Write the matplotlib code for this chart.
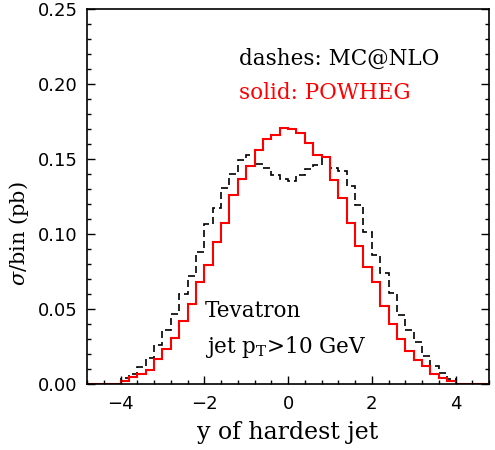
import numpy as np
import matplotlib
matplotlib.use("Agg")
import matplotlib.pyplot as plt
from matplotlib.ticker import MultipleLocator

# Bin edges: 40 bins of width 0.2 from -4 to 4
bin_lo = -4.0
bin_hi = 4.0
bin_w = 0.2

# POWHEG (solid red), sigma/bin in pb
powheg = [0.0018, 0.0044, 0.0067, 0.0095, 0.0168, 0.0234, 0.0307, 0.0422, 0.0535, 0.0682,
          0.0791, 0.0946, 0.1072, 0.1257, 0.1368, 0.1451, 0.1560, 0.1634, 0.1660, 0.1707,
          0.1697, 0.1670, 0.1604, 0.1525, 0.1513, 0.1360, 0.1242, 0.1075, 0.0919, 0.0782,
          0.0680, 0.0517, 0.0398, 0.0301, 0.0220, 0.0160, 0.0117, 0.0068, 0.0037, 0.0018]

# MC@NLO (dashed black)
mcnlo = [0.0037, 0.0069, 0.0112, 0.0173, 0.0262, 0.0360, 0.0467, 0.0600, 0.0717, 0.0881,
         0.1067, 0.1173, 0.1309, 0.1401, 0.1490, 0.1523, 0.1464, 0.1440, 0.1390, 0.1367,
         0.1351, 0.1393, 0.1435, 0.1462, 0.1513, 0.1440, 0.1417, 0.1317, 0.1195, 0.1015,
         0.0859, 0.0740, 0.0606, 0.0456, 0.0362, 0.0278, 0.0189, 0.0120, 0.0071, 0.0035]

xmin, xmax = -4.8, 4.8
ymin, ymax = 0.0, 0.25

edges = np.round(np.arange(bin_lo, bin_hi + bin_w / 2, bin_w), 6)
full_edges = np.concatenate([[xmin], edges, [xmax]])

def padded(v):
    return np.concatenate([[0.0], np.asarray(v), [0.0]])

plt.rcParams['mathtext.fontset'] = 'dejavuserif'

fig = plt.figure(figsize=(4.95, 4.5), dpi=100)
ax = fig.add_axes([0.176, 0.147, 0.812, 0.833])

ax.stairs(padded(mcnlo), full_edges, baseline=None, color='black', lw=1.2,
          linestyle=(0, (4.2, 2.4)))
ax.stairs(padded(powheg), full_edges, baseline=None, color='#ff0000', lw=1.5)

ax.set_xlim(xmin, xmax)
ax.set_ylim(ymin, ymax)

ax.xaxis.set_major_locator(MultipleLocator(2))
ax.xaxis.set_minor_locator(MultipleLocator(0.4))
ax.yaxis.set_major_locator(MultipleLocator(0.05))
ax.yaxis.set_minor_locator(MultipleLocator(0.01))
ax.tick_params(which='both', direction='in', top=False, right=True, width=1.0)
ax.tick_params(which='major', length=6)
ax.tick_params(which='minor', length=3)
ax.tick_params(axis='y', labelsize=13, pad=7)
ax.tick_params(axis='x', labelsize=13, pad=8)
ax.yaxis.set_major_formatter(matplotlib.ticker.FormatStrFormatter('%.2f'))
xt = [-4, -2, 0, 2, 4]
ax.set_xticks(xt)
ax.set_xticklabels(['\u22124', '\u22122', '0', '2', '4'])
for s in ax.spines.values():
    s.set_linewidth(1.2)

serif = 'DejaVu Serif'
ax.set_xlabel('y of hardest jet', fontsize=17, family=serif, labelpad=6)
ax.set_ylabel(r'$\sigma$/bin (pb)', fontsize=15, family=serif)
ax.yaxis.set_label_coords(-0.14, 0.40)

ax.text(0.377, 0.868, 'dashes: MC@NLO', transform=ax.transAxes, fontsize=15.5,
        family=serif, color='black', va='center', ha='left')
ax.text(0.377, 0.775, 'solid: POWHEG', transform=ax.transAxes, fontsize=15.5,
        family=serif, color='#ff0000', va='center', ha='left')
ax.text(0.293, 0.195, 'Tevatron', transform=ax.transAxes, fontsize=15.5,
        family=serif, color='black', va='center', ha='left')
ax.text(0.293, 0.097, r'jet $\mathrm{p}_\mathrm{T}$>10 GeV', transform=ax.transAxes,
        fontsize=15.5, family=serif, color='black', va='center', ha='left')

fig.savefig('out.png', dpi=100)
